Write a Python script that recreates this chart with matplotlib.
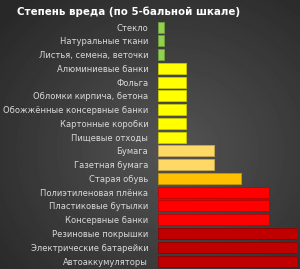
import numpy as np
import matplotlib.pyplot as plt

labels = ["Стекло", "Натуральные ткани", "Листья, семена, веточки",
          "Алюминиевые банки", "Фольга", "Обломки кирпича, бетона",
          "Обожжённые консервные банки", "Картонные коробки", "Пищевые отходы",
          "Бумага", "Газетная бумага", "Старая обувь",
          "Полиэтиленовая плёнка", "Пластиковые бутылки", "Консервные банки",
          "Резиновые покрышки", "Электрические батарейки", "Автоаккумуляторы"]
values = [0.2, 0.2, 0.2, 1, 1, 1, 1, 1, 1, 2, 2, 3, 4, 4, 4, 5, 5, 5]
colors = ["#92D050"] * 3 + ["#FFFF00"] * 6 + ["#FFD966"] * 2 + ["#FFC000"] + \
         ["#FF0000"] * 3 + ["#C00000"] * 3
edges = ["#6f9f3c"] * 3 + ["#c8c800"] * 6 + ["#c9a94f"] * 2 + ["#c99600"] + \
        ["#c80000"] * 3 + ["#900000"] * 3

fig = plt.figure(figsize=(3.0, 2.69), dpi=100)

# radial gradient background
bg = fig.add_axes([0, 0, 1, 1])
yy, xx = np.mgrid[0:269, 0:300]
r = np.sqrt(((xx - 170) / 220.0) ** 2 + ((yy - 150) / 200.0) ** 2)
shade = 0.33 - 0.17 * np.clip(r, 0, 1)
bg.imshow(shade, cmap="gray", vmin=0, vmax=1, aspect="auto", extent=[0, 1, 0, 1])
bg.axis("off")

ax = fig.add_axes([158 / 300, 0.004, 139 / 300, 0.921])
ax.patch.set_alpha(0)
y = np.arange(len(labels))
ax.barh(y, values, height=0.8, color=colors, edgecolor=edges, linewidth=0.6)
ax.set_xlim(0, 5)
ax.set_ylim(len(labels) - 0.5, -0.5)
ax.set_yticks(y)
ax.set_yticklabels(labels, fontsize=6.0, color="#d9d9d9")
ax.tick_params(axis="y", length=0, pad=7)
ax.set_xticks([])
for s in ax.spines.values():
    s.set_visible(False)

fig.text(0.057, 0.955, "Степень вреда (по 5-бальной шкале)", fontsize=7.4,
         fontweight="bold", color="white", va="center", ha="left")

fig.savefig("out.png", dpi=100)
